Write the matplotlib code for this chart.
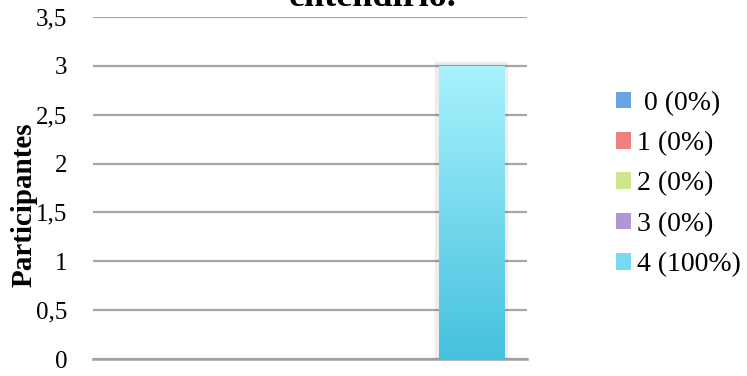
import numpy as np
import matplotlib
matplotlib.use("Agg")
import matplotlib.pyplot as plt
import matplotlib.patheffects as pe
from matplotlib.colors import LinearSegmentedColormap, to_rgb
from matplotlib.patches import Patch

# datos del grafico
series = [" 0 (0%)", "1 (0%)", "2 (0%)", "3 (0%)", "4 (100%)"]
valores = [0, 0, 0, 0, 3]
yticks = [0, 0.5, 1, 1.5, 2, 2.5, 3, 3.5]
ytick_labels = ["0", "0,5", "1", "1,5", "2", "2,5", "3", "3,5"]
titulo = "entendirlo."
ylabel = "Participantes"

# colores (arriba, abajo) del degradado
colores = [("#8dbdf0", "#4a8ad5"),
           ("#f8a5a0", "#de5f5a"),
           ("#e4f7b6", "#b3d468"),
           ("#cbb8e6", "#9275bf"),
           ("#a8f2fd", "#46c1de")]

plt.rcParams['font.family'] = ['Liberation Serif', 'DejaVu Serif']

fig = plt.figure(figsize=(7.47, 3.76), dpi=100)
ax = fig.add_axes([93 / 747, 1 - 359 / 376, 434 / 747, 342 / 376])

paso = 0.186
ancho = 0.150
pos = [(i - 2) * paso for i in range(len(series))]
handles = []
for i, (s, v) in enumerate(zip(series, valores)):
    top, bot = colores[i]
    mid = tuple((np.array(to_rgb(top)) + np.array(to_rgb(bot))) / 2)
    handles.append(Patch(facecolor=mid, label=s))
    b = ax.bar(pos[i], v, width=ancho, color=mid, zorder=3)
    for p in b.patches:
        if p.get_height() <= 0:
            continue
        p.set_path_effects([pe.Stroke(linewidth=6, foreground="#000000", alpha=0.07), pe.Normal()])
        x0, y0 = p.get_x(), p.get_y()
        w, h = p.get_width(), p.get_height()
        cmap = LinearSegmentedColormap.from_list("g%d" % i, [bot, top])
        grad = np.linspace(0, 1, 256).reshape(-1, 1)
        im = ax.imshow(grad, extent=[x0, x0 + w, y0, y0 + h], aspect='auto',
                       cmap=cmap, origin='lower', zorder=4)
        im.set_clip_path(p)

ax.set_xlim(-0.5, 0.5)
ax.set_ylim(0, 3.5)
ax.set_yticks(yticks)
ax.set_yticklabels(ytick_labels)
ax.set_xticks([])
ax.tick_params(axis='y', length=0, pad=18.5, labelsize=18)
ax.grid(axis='y', color="#a6a6a6", linewidth=1.6, zorder=0)
ax.set_axisbelow(True)
for lado in ["top", "right", "left"]:
    ax.spines[lado].set_visible(False)
ax.spines["bottom"].set_color("#a0a0a0")
ax.spines["bottom"].set_linewidth(1.8)

ax.set_ylabel(ylabel, fontsize=21, fontweight='bold')
ax.yaxis.set_label_coords(-0.128, 0.45)

fig.text(373 / 747, 1 - 6 / 376, titulo, ha='center', va='baseline',
         fontsize=26, fontweight='bold')

fig.legend(handles=handles, loc='center left', bbox_to_anchor=(616 / 747, 1 - 184 / 376),
           frameon=False, fontsize=20, handlelength=0.54, handleheight=0.54,
           handletextpad=0.22, labelspacing=0.55, borderpad=0, borderaxespad=0)

plt.savefig("out.png", dpi=100)
